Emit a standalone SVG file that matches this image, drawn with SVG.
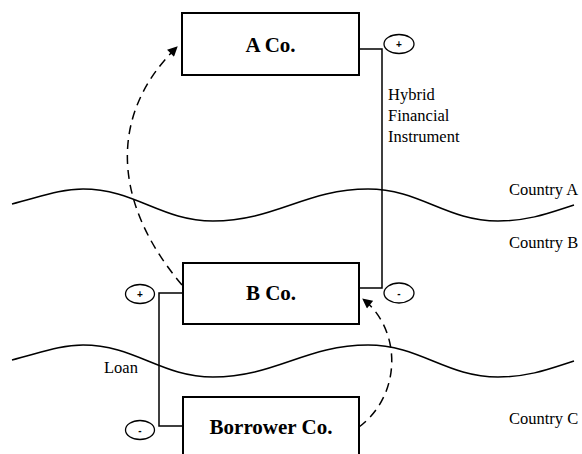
<svg xmlns="http://www.w3.org/2000/svg" width="582" height="454" viewBox="0 0 582 454">
<style>
.box{fill:#fff;stroke:#000;stroke-width:2}
.lbl{font-family:"Liberation Serif","Times New Roman",serif;font-weight:bold;font-size:21px;text-anchor:middle;fill:#000}
.txt{font-family:"Liberation Serif","Times New Roman",serif;font-size:16.5px;fill:#000}
.sgn{font-family:"Liberation Sans",Arial,sans-serif;font-size:10px;font-weight:bold;text-anchor:middle;fill:#000}
.ln{fill:none;stroke:#000;stroke-width:1.5}
.dash{fill:none;stroke:#000;stroke-width:1.5;stroke-dasharray:9 6}
.ell{fill:#fff;stroke:#000;stroke-width:1.3}
</style>
<defs>
<marker id="ah" viewBox="0 0 10 10" refX="9" refY="5" markerWidth="11" markerHeight="10" markerUnits="userSpaceOnUse" orient="auto"><path d="M0,0 L10,5 L0,10 z" fill="#000"/></marker>
<path id="wave" d="M12,204 C40,197 60,189 83,189 C135,189 161,221 213,221 C275,221 306,189 368,189 C420,189 446,221 498,221 C530,221 552,212 574,205"/>
</defs>
<g id="borders">
<use href="#wave" class="ln"/>
<use href="#wave" class="ln" transform="translate(0,156)"/>
</g>
<g id="connectors">
<polyline class="ln" points="359,49 382,49 382,288 359,288"/>
<polyline class="ln" points="183,293 159,293 159,426 183,426"/>
<path class="dash" d="M182,285 C110,200 110,112 177,47" marker-end="url(#ah)"/>
<path class="dash" d="M359,427 C402,395 402,330 363,299" marker-end="url(#ah)"/>
</g>
<g id="signs">
<ellipse class="ell" cx="399" cy="44" rx="15" ry="9.5"/><text class="sgn" x="399" y="48">+</text>
<ellipse class="ell" cx="399" cy="293" rx="15" ry="10"/><text class="sgn" x="399" y="297">-</text>
<ellipse class="ell" cx="140" cy="294" rx="14.5" ry="9.5"/><text class="sgn" x="140" y="298">+</text>
<ellipse class="ell" cx="140" cy="430" rx="14.5" ry="9.5"/><text class="sgn" x="140" y="434">-</text>
</g>
<g id="node-a">
<rect class="box" x="182" y="13" width="177" height="62"/>
<text class="lbl" x="270.5" y="52">A Co.</text>
</g>
<g id="node-b">
<rect class="box" x="183" y="263" width="176" height="61"/>
<text class="lbl" x="271" y="300">B Co.</text>
</g>
<g id="node-borrower">
<rect class="box" x="183" y="397" width="176" height="70"/>
<text class="lbl" x="271" y="434">Borrower Co.</text>
</g>
<g id="labels">
<text class="txt" x="388" y="100">Hybrid</text>
<text class="txt" x="388" y="121">Financial</text>
<text class="txt" x="388" y="142">Instrument</text>
<text class="txt" x="509" y="195">Country A</text>
<text class="txt" x="509" y="248">Country B</text>
<text class="txt" x="509" y="424">Country C</text>
<text class="txt" x="104" y="373">Loan</text>
</g>
</svg>
